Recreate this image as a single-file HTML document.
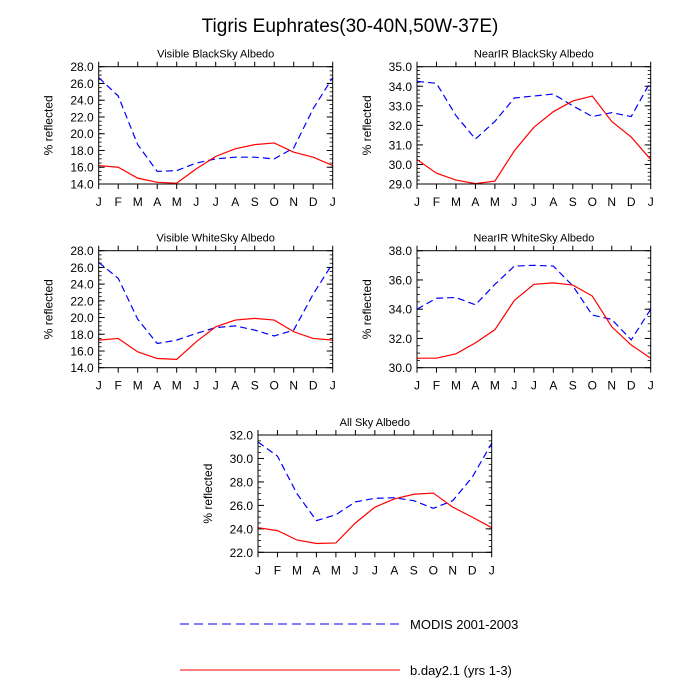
<!DOCTYPE html>
<html><head><meta charset="utf-8"><style>
html,body{margin:0;padding:0;background:#fff;width:700px;height:700px;overflow:hidden}
svg text{font-family:"Liberation Sans",Arial,sans-serif;fill:#000}
</style></head><body>
<svg id="chart" width="700" height="700" xmlns="http://www.w3.org/2000/svg">
<text x="350" y="32" font-size="19" text-anchor="middle">Tigris Euphrates(30-40N,50W-37E)</text>
<g>
<line x1="180" y1="624" x2="400" y2="624" stroke="#0000ff" stroke-width="1" stroke-dasharray="9,5"/>
<text x="410" y="629" font-size="13">MODIS 2001-2003</text>
<line x1="180" y1="670" x2="400" y2="670" stroke="#ff0000" stroke-width="1"/>
<text x="410" y="675" font-size="13">b.day2.1 (yrs 1-3)</text>
</g>
</svg>
<script>
const months = ["J","F","M","A","M","J","J","A","S","O","N","D","J"];
const titles = ["Visible BlackSky Albedo","NearIR BlackSky Albedo","Visible WhiteSky Albedo","NearIR WhiteSky Albedo","All Sky Albedo"];
const modisVisBlack = [26.7,24.5,18.7,15.5,15.6,16.5,17.0,17.2,17.2,17.0,18.3,23.0,26.7];
const modelVisBlack = [16.2,16.0,14.7,14.2,14.1,15.8,17.3,18.2,18.7,18.9,17.8,17.2,16.2];
const modisNirBlack = [34.25,34.15,32.5,31.3,32.2,33.4,33.5,33.6,33.0,32.45,32.65,32.45,34.25];
const modelNirBlack = [30.25,29.55,29.2,29.02,29.15,30.7,31.9,32.7,33.25,33.5,32.2,31.4,30.25];
const modisVisWhite = [26.6,24.7,19.8,16.9,17.3,18.1,18.8,19.0,18.5,17.8,18.5,22.8,26.5];
const modelVisWhite = [17.3,17.5,15.9,15.1,15.0,17.1,18.9,19.7,19.9,19.7,18.3,17.5,17.3];
const modisNirWhite = [34.0,34.75,34.8,34.3,35.7,36.95,37.0,36.95,35.6,33.6,33.3,31.9,34.0];
const modelNirWhite = [30.65,30.65,30.95,31.7,32.6,34.6,35.7,35.8,35.65,34.9,32.8,31.55,30.65];
const modisAllSky = [31.4,30.2,27.0,24.7,25.2,26.3,26.6,26.65,26.4,25.75,26.4,28.4,31.3];
const modelAllSky = [24.1,23.85,23.05,22.75,22.8,24.5,25.85,26.55,26.95,27.05,25.85,25.0,24.1];
const yMins = [14,29,14,30,22];
const yMaxs = [28,35,28,38,32];
const ySteps = [2,1,2,2,2];
const yMinorSteps = [0.5,0.2,0.5,0.5,0.5];
const modisSeries = [modisVisBlack,modisNirBlack,modisVisWhite,modisNirWhite,modisAllSky];
const modelSeries = [modelVisBlack,modelNirBlack,modelVisWhite,modelNirWhite,modelAllSky];

const NS="http://www.w3.org/2000/svg";
const svg=document.getElementById('chart');
function mk(tag,attrs,parent){const e=document.createElementNS(NS,tag);for(const k in attrs)e.setAttribute(k,attrs[k]);parent.appendChild(e);return e;}
const boxes=[[98.7,66.7,332.7,184],[417,66.7,650.7,184],[98.7,250.7,332.7,367.7],[417,250.7,650.7,367.7],[258,435,491.7,552.3]];
const names=["visible-blacksky","nearir-blacksky","visible-whitesky","nearir-whitesky","allsky"];
boxes.forEach((b,i)=>{
  const [x0,y0,x1,y1]=b;
  const g=mk('g',{},svg);
  
  
  const xs=k=>x0+(x1-x0)*k/12;
  const ys=v=>y1-(y1-y0)*(v-yMins[i])/(yMaxs[i]-yMins[i]);
  const t=mk('text',{x:(x0+x1)/2,y:y0-9,'font-size':11,'text-anchor':'middle'},g);t.textContent=titles[i];
  
  
  const nMin=Math.round((yMaxs[i]-yMins[i])/yMinorSteps[i]);
  for(let k=0;k<=nMin;k++){const y=ys(yMins[i]+k*yMinorSteps[i]);
    mk('line',{x1:x0,x2:x0+3,y1:y,y2:y,stroke:'#000','stroke-width':0.8},g);
    mk('line',{x1:x1,x2:x1-3,y1:y,y2:y,stroke:'#000','stroke-width':0.8},g);}
  const nMaj=Math.round((yMaxs[i]-yMins[i])/ySteps[i]);
  for(let k=0;k<=nMaj;k++){const v=yMins[i]+k*ySteps[i];const y=ys(v);
    mk('line',{x1:x0,x2:x0+6,y1:y,y2:y,stroke:'#000','stroke-width':1},g);
    mk('line',{x1:x1,x2:x1-6,y1:y,y2:y,stroke:'#000','stroke-width':1},g);
    const l=mk('text',{x:x0-5,y:y+4.5,'font-size':12,'text-anchor':'end'},g);l.textContent=v.toFixed(1);
    
    }
  months.forEach((m,k)=>{const x=xs(k);
    mk('line',{x1:x,x2:x,y1:y1,y2:y1+5,stroke:'#000','stroke-width':1},g);
    mk('line',{x1:x,x2:x,y1:y0,y2:y0-5,stroke:'#000','stroke-width':1},g);
    const l=mk('text',{x:x,y:y1+22,'font-size':12,'text-anchor':'middle'},g);l.textContent=m;
    
    });
  const yl=mk('text',{x:0,y:0,'font-size':12,'text-anchor':'middle',transform:`translate(${x0-46},${(y0+y1)/2}) rotate(-90)`},g);yl.textContent='% reflected';
  
  
  const p1=mk('polyline',{points:modisSeries[i].map((v,k)=>xs(k)+','+ys(v)).join(' '),fill:'none',stroke:'#0000ff','stroke-width':1.2,'stroke-dasharray':'7,4'},g);
  
  
  const p2=mk('polyline',{points:modelSeries[i].map((v,k)=>xs(k)+','+ys(v)).join(' '),fill:'none',stroke:'#ff0000','stroke-width':1.2},g);
  
  
  const r=mk('rect',{x:x0,y:y0,width:x1-x0,height:y1-y0,fill:'none',stroke:'#000','stroke-width':1},g);
  
  
});
</script>
</body></html>
